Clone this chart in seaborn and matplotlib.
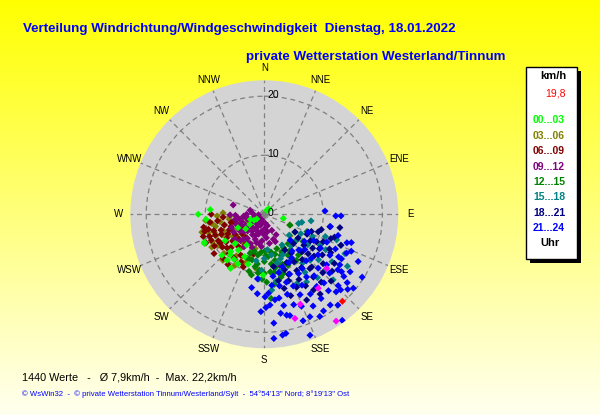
import numpy as np
import pandas as pd
import matplotlib
matplotlib.use("Agg")
import matplotlib.pyplot as plt
import seaborn as sns
from matplotlib.patches import Rectangle

# ---------------- data: (direction in degrees, speed in km/h) per time slot ----------------
pts_0003 = [(270, 11.2), (275, 9.2), (265, 9.9), (245, 11.2), (219, 10.0), (214, 9.2), (205, 7.9),
            (198, 8.9), (102, 3.3), (181, 10.3), (212, 10.8), (244, 11.3), (240, 2.0), (235, 3.0),
            (232, 4.0), (225, 7.0), (220, 9.0), (243, 5.0), (236, 8.0), (226, 10.0), (210, 6.0),
            (216, 7.5), (208, 9.5), (250, 2.5), (222, 8.5), (238, 1.5), (40, 1.2), (30, 0.8)]
pts_0306 = [(260.5, 7.6), (266, 5.9), (188.7, 9.3), (213, 9.1), (112.6, 4.7), (232.7, 9.1), (198, 7.8),
            (250, 5), (245, 6), (240, 7), (235, 8), (255, 7), (260, 9), (250, 9), (242, 10), (230, 6),
            (225, 8), (220, 9), (215, 7), (208, 8), (262, 6), (258, 4), (248, 3), (238, 5), (228, 7),
            (218, 6), (204, 9), (195, 6), (252, 10), (268, 8), (272, 7), (130, 5.7), (244, 8),
            (236, 9.5), (222, 10.5), (256, 8.5), (248, 7.5), (232, 4.5), (240, 3.5), (264, 10),
            (226, 9.5), (210, 10), (200, 8.5), (262, 9.5), (254, 11), (246, 9), (238, 10.5),
            (234, 6.5), (226, 5), (214, 8.5)]
pts_0609 = [(237.6, 10), (237, 8.9), (201.8, 9.6), (223, 10.2), (247, 9), (261.6, 9.3), (245, 4.5),
            (240, 5), (235, 6), (230, 7), (225, 8), (250, 6), (255, 7), (245, 8), (240, 9), (232, 9),
            (228, 5), (220, 7), (215, 9), (210, 8), (258, 5), (262, 8), (252, 9), (242, 7), (236, 4),
            (226, 6), (218, 5), (212, 6), (248, 10), (266, 7), (195, 7), (254, 10.5), (244, 11),
            (232, 10.8), (228, 8.5), (238, 7.5), (250, 7.8), (256, 5.8), (222, 9), (216, 10.5),
            (206, 9), (270, 9), (255, 9.8), (258, 10.5), (250, 11), (244, 10), (234, 8), (246, 6.5),
            (252, 5)]
pts_0912 = [(286.7, 5.5), (286, 2.5), (269, 5.8), (240, 3.7), (203, 3.9), (268, 4.9), (230, 2),
            (220, 3), (210, 2.5), (250, 2), (255, 3), (245, 4.5), (235, 5), (225, 4), (215, 5),
            (205, 5.5), (260, 3), (200, 2), (190, 3), (235, 1.5), (245, 2.5), (228, 3), (218, 2),
            (250, 5), (260, 5), (210, 4), (195, 5), (240, 6), (230, 6.5), (222, 6), (180, 2.5),
            (170, 3), (163, 9), (212, 6.5), (238, 2.5), (252, 4), (265, 3.5), (248, 6), (200, 4.5),
            (185, 4.5), (225, 1), (275, 2), (232, 3.5), (242, 5), (258, 4.2), (216, 3.5), (206, 3),
            (196, 3.5), (150, 4), (160, 4.5), (170, 5), (175, 4), (185, 5.5), (190, 5), (200, 6),
            (210, 5.5), (165, 2), (155, 3), (175, 1.5), (195, 1.5), (215, 1.5), (255, 1.5), (265, 1),
            (230, 4.5), (220, 5.5), (180, 3.5), (158, 5), (205, 1), (270, 3), (262, 4.5)]
pts_1215 = [(179, 6.2), (141, 6.4), (167, 8), (189, 7), (113, 4.7), (174, 9.8), (175.4, 14.3),
            (112, 7.8), (150, 6.5), (160, 6.2), (170, 6.5), (185, 6.5), (195, 8), (180, 8), (165, 7),
            (155, 7), (145, 7.5), (135, 6.5), (175, 7.2), (185, 9.5), (190, 9), (160, 9), (150, 8),
            (170, 10), (180, 10), (130, 7), (125, 8), (200, 7), (140, 9), (165, 11), (120, 6),
            (195, 6.5), (178, 7), (188, 8.5), (172, 8.5), (158, 7.5), (148, 9), (182, 11),
            (168, 9.2), (192, 10.5), (162, 10.5), (200, 8), (172, 12), (186, 10), (178, 11.5),
            (155, 9.5), (145, 9.5), (195, 10)]
pts_1518 = [(105, 6), (102, 6.5), (109.5, 13), (116, 15.2), (122, 16.6), (133.6, 16.1), (174.4, 12.9),
            (182.7, 9.5), (130, 5.5), (135, 8.6), (119, 10.8), (125, 9), (140, 7), (150, 9), (160, 8),
            (145, 12), (130, 12), (115, 9), (110, 11), (155, 13), (165, 10), (170, 7), (140, 14),
            (125, 14), (120, 12), (190, 8), (150, 6), (160, 12), (175, 6), (98, 8), (135, 11),
            (112, 14), (128, 7), (142, 10.5), (155, 7.5), (165, 8.5), (180, 7.5), (118, 7),
            (132, 14), (148, 13.5), (170, 11.5), (185, 11)]
pts_1821 = [(108, 9.6), (100.7, 11.3), (117.6, 10), (147, 15.3), (153.7, 16.2), (115, 8), (120, 9),
            (125, 10), (130, 11), (135, 9), (140, 10), (110, 12), (120, 13), (130, 13), (140, 12),
            (150, 11), (145, 8), (135, 7), (125, 7), (155, 9), (160, 12), (150, 14), (140, 15),
            (125, 12), (115, 11), (105, 10), (100, 13), (130, 15), (160, 10), (165, 13), (145, 11),
            (135, 14), (120, 6), (150, 7), (170, 9), (112, 14), (138, 12), (128, 8.5), (142, 13.5),
            (132, 10), (122, 11), (148, 9.5), (156, 13.5), (118, 12.5), (108, 12.5), (162, 14.5),
            (152, 12.5), (145, 16.5), (135, 16), (125, 14.5), (110, 8.5), (158, 11), (168, 11.5)]
pts_2124 = [(86.9, 10.3), (91.3, 12.1), (91.2, 13.0), (100.5, 11.4), (109, 14.8), (108, 15.5),
            (116.7, 17.8), (122.7, 19.7), (129.7, 19.6), (129.5, 18.2), (141, 19.8), (143.7, 22.3),
            (159.3, 21.9), (169.7, 20.5), (171.4, 20.7), (175.6, 21.1), (179, 15.8), (189.8, 12.6),
            (170.6, 17), (167.5, 17.5), (165.8, 17.7), (156, 19), (148.5, 19.2), (144, 19),
            (137.2, 17.9), (134.7, 18.2), (123.8, 17.5), (126.6, 16.3), (115.3, 15.4), (119.8, 14.5),
            (123.8, 15.4), (179.5, 14), (176.4, 15.4), (172.9, 14.6), (151.5, 19.7),
            (112, 8), (118, 9.5), (124, 8.2), (131, 9.1), (136, 8.4), (143, 7.8), (148, 8.7),
            (153, 9.2), (161, 9.4), (166, 10.2), (172, 10.6), (114, 11.6), (121, 11.1), (127, 11.4),
            (133, 10.9), (138, 10.6), (145, 11.2), (150, 11.6), (157, 11), (162, 12.1), (168, 12.4),
            (174, 12.1), (116, 13.4), (122, 13.1), (129, 13.6), (135, 12.9), (141, 13.4), (146, 12.8),
            (152, 13.6), (158, 13.1), (164, 14.1), (170, 14.4), (177, 13.4), (120, 15.1), (127, 15.6),
            (132, 14.9), (139, 15.4), (144, 15.1), (150, 15.6), (156, 14.9), (162, 16.1), (168, 15.8),
            (128, 17.1), (134, 17.4), (140, 16.9), (146, 17.2), (152, 17.6), (158, 16.8), (135, 6.2),
            (185, 13.5), (106, 13), (113, 16), (132, 19), (160, 19.2), (175, 18.5), (182, 16.5),
            (186, 11)]
pts_current = [(163.6, 18.4), (158.2, 16.4), (143.9, 15.5), (146.1, 21.8), (130.9, 14.0)]
pts_last = [(138.1, 19.8)]

slots = ["00...03", "03...06", "06...09", "09...12", "12...15", "15...18", "18...21", "21...24"]
slot_colors = ["#00ff00", "#808000", "#800000", "#800080", "#008000", "#008080", "#000080", "#0000ff"]
compass = ["N", "NNE", "NE", "ENE", "E", "ESE", "SE", "SSE",
           "S", "SSW", "SW", "WSW", "W", "WNW", "NW", "NNW"]
ring_values = [0, 10, 20]
last_value = "19,8"
title1 = "Verteilung Windrichtung/Windgeschwindigkeit  Dienstag, 18.01.2022"
title2 = "private Wetterstation Westerland/Tinnum"
footer1 = "1440 Werte   -   \u00d8 7,9km/h  -  Max. 22,2km/h"
footer2 = ("\u00a9 WsWin32  -  \u00a9 private Wetterstation Tinnum/Westerland/Sylt  -  "
           "54\u00b054'13'' Nord; 8\u00b019'13'' Ost")

# ---------------- build table (drawing order: lime drawn over the west cluster) ----------------
series = dict(zip(slots, [pts_0003, pts_0306, pts_0609, pts_0912,
                          pts_1215, pts_1518, pts_1821, pts_2124]))
draw_order = slots[1:] + slots[:1]
rows = []
for lab in draw_order:
    rows += [(lab, d, s) for d, s in series[lab]]
rows += [("aktuell", d, s) for d, s in pts_current]
rows += [("letzter", d, s) for d, s in pts_last]
df = pd.DataFrame(rows, columns=["Uhr", "Richtung", "kmh"])
df["theta"] = np.deg2rad(df["Richtung"])
palette = dict(zip(slots, slot_colors))
palette["aktuell"] = "#ff00ff"
palette["letzter"] = "#ff0000"

plt.rcParams["font.family"] = ["Liberation Sans", "DejaVu Sans"]

W, H = 600, 415
fig = plt.figure(figsize=(6, 4.15), dpi=100)

# background gradient
bg = fig.add_axes([0, 0, 1, 1], zorder=-10)
grad = np.linspace(0, 1, 256)[:, None]
img = np.ones((256, 1, 3))
img[..., 2] = grad * 0.94
bg.imshow(img, aspect="auto", extent=[0, 1, 0, 1], origin="upper")
bg.axis("off")

# polar axes
cx, cy, rad = 264.3, 214.3, 134.0
ax = fig.add_axes([(cx - rad) / W, (H - cy - rad) / H, 2 * rad / W, 2 * rad / H], projection="polar")
ax.set_theta_zero_location("N")
ax.set_theta_direction(-1)
ax.set_facecolor("#d4d4d4")
ax.spines["polar"].set_visible(False)

sns.scatterplot(data=df, x="theta", y="kmh", hue="Uhr", palette=palette, marker="D",
                s=13, linewidth=0, legend=False, ax=ax, zorder=3)
rmax = 22.7
ax.set_ylim(0, rmax)
ax.set_xticks(np.deg2rad(np.arange(16) * 22.5))
ax.set_xticklabels([])
ax.set_yticks([10, 20])
ax.set_yticklabels([])
ax.grid(True, color="#808080", linestyle=(0, (4, 3)), linewidth=0.9)
ax.set_xlabel("")
ax.set_ylabel("")

for i, lab in enumerate(compass):
    ax.text(np.deg2rad(i * 22.5), 24.7, lab, ha="center", va="center", fontsize=7,
            color="black", clip_on=False)
for r in ring_values:
    ax.annotate(str(r), xy=(0, r), xytext=(2.2, 1.2), textcoords="offset points",
                ha="left", va="center", fontsize=7.5, color="black", zorder=4)

# titles
fig.text(23 / W, 1 - 29 / H, title1, ha="left", va="center", fontsize=9.6,
         fontweight="bold", color="#0000ff")
fig.text(246 / W, 1 - 57 / H, title2, ha="left", va="center", fontsize=9.6,
         fontweight="bold", color="#0000ff")

# legend box
bx0, bx1, by0, by1 = 526, 577, 67, 259
fig.patches.append(Rectangle(((bx0 + 4) / W, 1 - (by1 + 4) / H), (bx1 - bx0) / W, (by1 - by0) / H,
                             transform=fig.transFigure, facecolor="black", edgecolor="none", zorder=1))
fig.patches.append(Rectangle((bx0 / W, 1 - by1 / H), (bx1 - bx0) / W, (by1 - by0) / H,
                             transform=fig.transFigure, facecolor="white", edgecolor="black",
                             linewidth=1, zorder=2))
fig.text(553 / W, 1 - 76 / H, "km/h", ha="center", va="center", fontsize=8, fontweight="bold")
fig.text(566 / W, 1 - 93 / H, last_value, ha="right", va="center", fontsize=7.5, color="#ff0000")
slot_y = [120, 136, 151, 167, 182, 197, 213, 228]
for lab, col, yy in zip(slots, slot_colors, slot_y):
    fig.text(549 / W, 1 - yy / H, lab, ha="center", va="center", fontsize=7.5,
             fontweight="bold", color=col)
fig.text(550 / W, 1 - 243 / H, "Uhr", ha="center", va="center", fontsize=8, fontweight="bold")

# footer
fig.text(22 / W, 1 - 377 / H, footer1, ha="left", va="center", fontsize=7.8, color="black")
fig.text(22 / W, 1 - 394 / H, footer2, ha="left", va="center", fontsize=5.6, color="#0000ff")

fig.savefig("out.png", dpi=100)
